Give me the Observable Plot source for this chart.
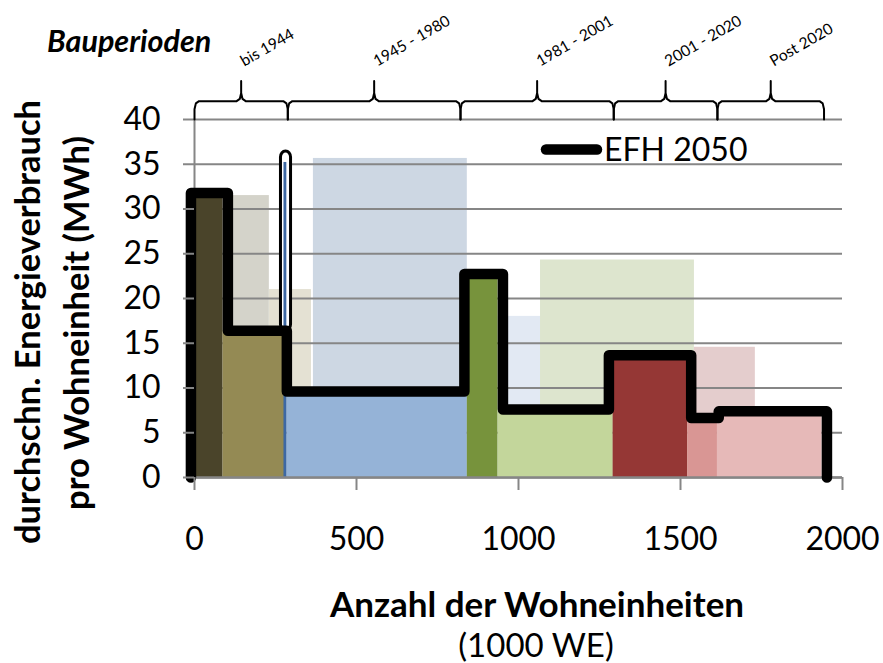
<!DOCTYPE html>
<html><head><meta charset="utf-8">
<script src="https://cdn.jsdelivr.net/npm/d3@7"></script>
<script src="https://cdn.jsdelivr.net/npm/@observablehq/plot@0.6"></script>
<style>body{margin:0;background:#fff} svg{display:block}</style>
</head><body><div id="chart"></div>
<script>
// ---- data (x in 1000 WE, y in MWh) ----
const barStart = [0, 88, 278, 285, 842, 937, 1292, 1522, 1614];
const barEnd   = [88, 278, 285, 842, 937, 1292, 1522, 1614, 1937];
const barValue = [31.7, 16.4, 35.2, 9.6, 22.75, 7.6, 13.65, 6.64, 7.39];
const barColor = ["#4a442a", "#948a54", "#3d68a3", "#95b3d7", "#77933c", "#c3d69b", "#953735", "#d99694", "#e6b9b8"];

const ghostStart = [88, 231, 367, 937, 1068, 1543];
const ghostEnd   = [231, 361, 842, 1068, 1543, 1731];
const ghostValue = [31.5, 21.0, 35.65, 18.0, 24.3, 14.55];
const ghostColor = ["#d4d3ca", "#e4e1d3", "#cdd7e3", "#e2e9f3", "#dde5ce", "#e4cdcd"];

const lineX = [-11, -11, 103, 103, 285, 285, 833, 833, 952, 952, 1279, 1279, 1533, 1533, 1618, 1618, 1952, 1952];
const lineY = [0, 31.8, 31.8, 16.4, 16.4, 9.6, 9.6, 22.75, 22.75, 7.6, 7.6, 13.65, 13.65, 6.64, 6.64, 7.39, 7.39, 0];
const lineName = "EFH 2050";

const periodLabels = ["bis 1944", "1945 - 1980", "1981 - 2001", "2001 - 2020", "Post 2020"];
const periodEdges = [0, 288, 821, 1294, 1614, 1943];

const xTicks = [0, 500, 1000, 1500, 2000];
const yTicks = [0, 5, 10, 15, 20, 25, 30, 35, 40];

// ---- tables ----
const bars = barStart.map((s, i) => ({start: s, end: barEnd[i], value: barValue[i], color: barColor[i], prev: i > 0 ? barValue[i - 1] : 0}));
const ghosts = ghostStart.map((s, i) => ({start: s, end: ghostEnd[i], value: ghostValue[i], color: ghostColor[i]}));
const strip = bars.filter((d, i) => i === 2);
const solid = bars.filter((d, i) => i !== 2);
const linePts = lineX.map((x, i) => ({x, y: lineY[i]}));

const braceBase = 40, braceBar = 42.05, bracePeak = 44.3, labelY = 45.9;
const periods = periodLabels.map((label, i) => ({label, x0: periodEdges[i], x1: periodEdges[i + 1], mid: (periodEdges[i] + periodEdges[i + 1]) / 2}));
const bracePts = periods.flatMap((p, i) => {
  const r = 14;
  return [
    [p.x0, braceBase], [p.x0, braceBar - 0.9], [p.x0 + r * 0.3, braceBar - 0.25], [p.x0 + r, braceBar],
    [p.mid - r, braceBar], [p.mid - r * 0.3, braceBar + 0.25], [p.mid, braceBar + 0.9], [p.mid, bracePeak],
    [p.mid, braceBar + 0.9], [p.mid + r * 0.3, braceBar + 0.25], [p.mid + r, braceBar],
    [p.x1 - r, braceBar], [p.x1 - r * 0.3, braceBar - 0.25], [p.x1, braceBar - 0.9], [p.x1, braceBase]
  ].map(([x, y]) => ({x, y, period: i}));
});

const grey = "#868686";
const font = "Lato, 'Open Sans', sans-serif";
const chart = Plot.plot({
  width: 883, height: 663,
  marginLeft: 194, marginRight: 41, marginTop: 119, marginBottom: 186,
  style: {fontFamily: font, background: "white", overflow: "visible", color: "black"},
  x: {domain: [0, 2000]},
  y: {domain: [0, 40]},
  color: {type: "identity"},
  marks: [
    Plot.rect(ghosts, {x1: "start", x2: "end", y1: 0, y2: "value", fill: "color"}),
    Plot.gridY(yTicks, {stroke: grey, strokeOpacity: 1, strokeWidth: 2}),
    Plot.rect(solid, {x1: "start", x2: "end", y1: 0, y2: "value", fill: "color"}),
    Plot.rect(strip, {x1: "start", x2: "end", y1: "prev", y2: "value", fill: "white", stroke: "black", strokeWidth: 3, insetLeft: -3.6, insetRight: -4.2, insetTop: -11, rx: 6}),
    Plot.rect(strip, {x1: "start", x2: "end", y1: 0, y2: "value", fill: "color", insetLeft: -0.6}),
    Plot.ruleX([0], {stroke: grey, strokeWidth: 2}),
    Plot.ruleY([0], {stroke: grey, strokeWidth: 2.5}),
    Plot.line(linePts, {x: "x", y: "y", stroke: "black", strokeWidth: 10.5, strokeLinejoin: "round", strokeLinecap: "round"}),
    Plot.axisY({ticks: yTicks, tickSize: 11, tickPadding: 23, fontSize: 32, stroke: grey, strokeWidth: 2, fill: "black", label: null, tickFormat: d => String(d)}),
    Plot.axisX({ticks: xTicks, tickSize: 13, tickPadding: 37, fontSize: 32, stroke: grey, strokeWidth: 2, fill: "black", label: null, tickFormat: d => String(d)}),
    Plot.line(bracePts, {x: "x", y: "y", z: "period", stroke: "black", strokeWidth: 2, strokeLinejoin: "round", strokeLinecap: "round"}),
    Plot.text(periods, {x: "mid", y: labelY, text: "label", rotate: -30, textAnchor: "start", lineAnchor: "bottom", fontSize: 15.5, dx: 3, fill: "black"})
  ]
});
document.getElementById("chart").appendChild(chart);

const svg = d3.select(chart);
function addText(x, y, txt, opts = {}) {
  return svg.append("text")
    .attr("transform", `translate(${x},${y})` + (opts.rotate ? ` rotate(${opts.rotate})` : ""))
    .attr("text-anchor", opts.anchor || "start")
    .attr("fill", "black")
    .style("font-family", font)
    .style("font-size", (opts.size || 30) + "px")
    .style("font-weight", opts.bold ? "bold" : "normal")
    .style("font-style", opts.italic ? "italic" : "normal")
    .text(txt);
}
addText(47, 52, "Bauperioden", {size: 30.5, bold: true, italic: true});
addText(40, 322, "durchschn. Energieverbrauch", {size: 34.5, bold: true, anchor: "middle", rotate: -90});
addText(89, 323, "pro Wohneinheit (MWh)", {size: 34.5, bold: true, anchor: "middle", rotate: -90});
addText(537, 617, "Anzahl der Wohneinheiten", {size: 35, bold: true, anchor: "middle"});
addText(536, 657, "(1000 WE)", {size: 33, anchor: "middle"});
// legend
svg.append("line").attr("x1", 546).attr("x2", 597).attr("y1", 149.5).attr("y2", 149.5)
  .attr("stroke", "black").attr("stroke-width", 10.5).attr("stroke-linecap", "round");
addText(604, 161, lineName, {size: 32});
</script>
</body></html>
